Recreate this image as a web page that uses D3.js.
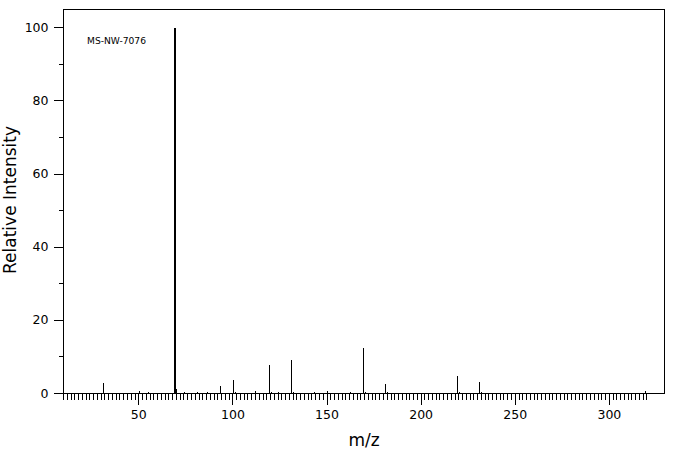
<!DOCTYPE html>
<html>
<head>
<meta charset="utf-8">
<script src="https://cdn.jsdelivr.net/npm/d3@7"></script>
<style>
  html, body { margin: 0; padding: 0; background: #fff; }
  svg { display: block; }
  text { fill: #000; }
</style>
</head>
<body>
<svg id="chart" width="676" height="455"></svg>
<script>
// ---- data ----
const mz = [31, 50, 55, 69, 70, 74, 81, 86, 93, 100, 101, 112, 119, 120, 124, 131, 132, 143, 150, 162, 169, 170, 181, 182, 219, 220, 231, 232, 319];
const intensity = [2.9, 0.6, 0.4, 100, 1.1, 0.4, 0.5, 0.4, 2.0, 3.6, 0.3, 0.6, 7.8, 0.4, 0.4, 9.1, 0.4, 0.4, 0.7, 0.5, 12.4, 0.5, 2.5, 0.4, 4.7, 0.4, 3.1, 0.4, 0.8];
const xTickLabels = [50, 100, 150, 200, 250, 300];
const yTickLabels = [0, 20, 40, 60, 80, 100];
const yMinorTicks = [10, 30, 50, 70, 90];
const xMinorTicks = d3.range(10, 321, 2);
const title = "MS-NW-7076";
const xTitle = "m/z";
const yTitle = "Relative Intensity";

const svg = d3.select("#chart");
const L = 63.5, R = 664.5, T = 9.5, B = 393.5;

const x = d3.scaleLinear().domain([10, 329.3]).range([L, R]);
const y = d3.scaleLinear().domain([0, 105]).range([B, T]);

const font = "'DejaVu Sans', sans-serif";

// frame
svg.append("rect")
  .attr("x", L).attr("y", T).attr("width", R - L).attr("height", B - T)
  .attr("fill", "none").attr("stroke", "#000").attr("stroke-width", 1)
  .attr("shape-rendering", "crispEdges");

// x minor ticks
const gxMinor = svg.append("g").attr("transform", `translate(0,${B})`)
  .call(d3.axisBottom(x).tickValues(xMinorTicks).tickSize(6).tickFormat("").offset(0));
gxMinor.select(".domain").remove();

// x major ticks with labels
const gx = svg.append("g").attr("transform", `translate(0,${B})`)
  .call(d3.axisBottom(x).tickValues(xTickLabels).tickSize(11).tickPadding(6).offset(0));
gx.select(".domain").remove();

// y minor ticks
const gyMinor = svg.append("g").attr("transform", `translate(${L},0)`)
  .call(d3.axisLeft(y).tickValues(yMinorTicks).tickSize(5).tickFormat("").offset(0));
gyMinor.select(".domain").remove();

// y major ticks with labels
const gy = svg.append("g").attr("transform", `translate(${L},0)`)
  .call(d3.axisLeft(y).tickValues(yTickLabels).tickSize(10).tickPadding(5).offset(0));
gy.select(".domain").remove();

svg.selectAll(".tick line").attr("stroke", "#000").attr("shape-rendering", "crispEdges");
svg.selectAll(".tick text")
  .attr("font-family", font).attr("font-size", 12.5)
  .attr("fill", "#000");

// peaks
const peaks = mz.map((m, i) => ({ m, v: intensity[i] }));
svg.append("g").selectAll("line").data(peaks).join("line")
  .attr("x1", d => d.v > 50 ? Math.round(x(d.m)) : Math.round(x(d.m)) + 0.5)
  .attr("x2", d => d.v > 50 ? Math.round(x(d.m)) : Math.round(x(d.m)) + 0.5)
  .attr("y1", y(0))
  .attr("y2", d => y(d.v))
  .attr("stroke", "#000")
  .attr("stroke-width", d => d.v > 50 ? 2 : 1)
  .attr("shape-rendering", "crispEdges");

// title label inside plot
svg.append("text")
  .attr("x", 87).attr("y", 44.3)
  .attr("font-family", font)
  .attr("font-size", 8.5)
  .attr("textLength", 59).attr("lengthAdjust", "spacingAndGlyphs")
  .text(title);

// axis titles
svg.append("text")
  .attr("x", (L + R) / 2).attr("y", 446)
  .attr("text-anchor", "middle")
  .attr("font-family", font).attr("font-size", 17)
  .text(xTitle);

svg.append("text")
  .attr("transform", `translate(16,200) rotate(-90)`)
  .attr("text-anchor", "middle")
  .attr("font-family", font).attr("font-size", 17)
  .text(yTitle);
</script>
</body>
</html>
